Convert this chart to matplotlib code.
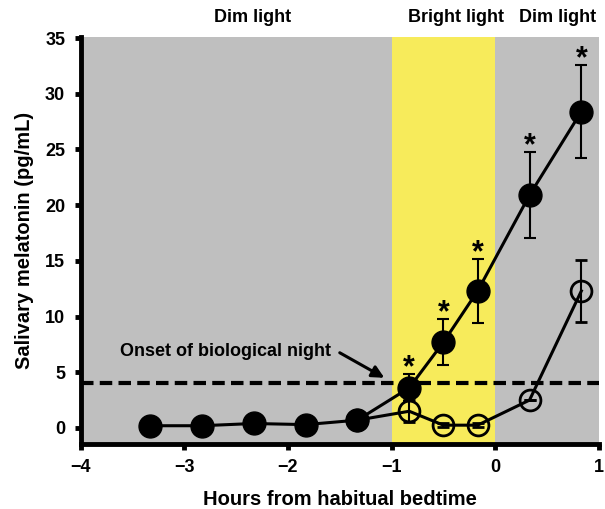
import matplotlib.pyplot as plt

plt.rcParams["font.family"] = ["Liberation Sans", "DejaVu Sans"]
plt.rcParams["font.weight"] = "bold"

# hours from habitual bedtime
hours_dim = [-3.33, -2.83, -2.33, -1.83, -1.33, -0.83, -0.5, -0.17, 0.33, 0.83]
melatonin_dim = [0.2, 0.2, 0.4, 0.3, 0.7, 3.6, 7.7, 12.3, 20.9, 28.4]
sem_dim = [0, 0, 0, 0, 0, 1.2, 2.05, 2.85, 3.85, 4.15]

hours_bright = [-1.33, -0.83, -0.5, -0.17, 0.33, 0.83]
melatonin_bright = [0.7, 1.5, 0.25, 0.25, 2.5, 12.3]
sem_bright = [0, 1.0, 0.2, 0.2, 0, 2.8]

signif_hours = [-0.83, -0.5, -0.17, 0.33, 0.83]
onset_threshold = 4

phases = [(-4, -1, "Dim light"), (-1, 0, "Bright light"), (0, 1, "Dim light")]
phase_colors = ["#bfbfbf", "#f7eb5b", "#bfbfbf"]
phase_label_x = [-2.34, -0.38, 0.60]

fig = plt.figure(figsize=(6.05, 5.09), dpi=100)
ax = fig.add_axes([80.5 / 605, 1 - 444 / 509, 518.5 / 605, 407 / 509])

for (x0, x1, name), col, lx in zip(phases, phase_colors, phase_label_x):
    ax.axvspan(x0, x1, color=col, lw=0, zorder=0)
    ax.text(lx, 1.047, name, transform=ax.get_xaxis_transform(),
            ha="center", va="center", fontsize=13, fontweight="bold")

ax.axhline(onset_threshold, color="black", lw=3, dashes=(3, 1.5), zorder=2)

ax.errorbar(hours_bright, melatonin_bright, yerr=sem_bright, color="black",
            lw=2.2, elinewidth=1.5, capsize=4.3, capthick=1.5, marker="o",
            ms=15, mfc="none", mec="black", mew=2, zorder=3)
ax.errorbar(hours_dim, melatonin_dim, yerr=sem_dim, color="black",
            lw=2.2, elinewidth=1.5, capsize=4.3, capthick=1.5, marker="o",
            ms=16.5, mfc="black", mec="black", zorder=4)

for h in signif_hours:
    i = hours_dim.index(h)
    top = melatonin_dim[i] + sem_dim[i]
    ax.text(h, top - 0.2, "*", ha="center", va="baseline",
            fontsize=22, fontweight="bold")

ax.text(-2.6, 6.9, "Onset of biological night", ha="center", va="center",
        fontsize=13, fontweight="bold")
ax.annotate("", xy=(-1.07, 4.5), xytext=(-1.50, 6.75),
            arrowprops=dict(arrowstyle="-|>", color="black", lw=2.2,
                            mutation_scale=18, shrinkA=0, shrinkB=0))

ax.set_xlim(-4, 1)
ax.set_ylim(-1.44, 35.09)
ax.set_xticks(range(-4, 2))
ax.set_yticks(range(0, 40, 5))
ax.set_xlabel("Hours from habitual bedtime", fontsize=14.5,
              fontweight="bold", labelpad=10)
ax.set_ylabel("Salivary melatonin (pg/mL)", fontsize=14.5,
              fontweight="bold", labelpad=8)

for side in ["top", "right"]:
    ax.spines[side].set_visible(False)
for side in ["left", "bottom"]:
    ax.spines[side].set_linewidth(3.5)
ax.tick_params(width=3.5, length=4, pad=7, labelsize=13)

fig.savefig("out.png", dpi=100)
